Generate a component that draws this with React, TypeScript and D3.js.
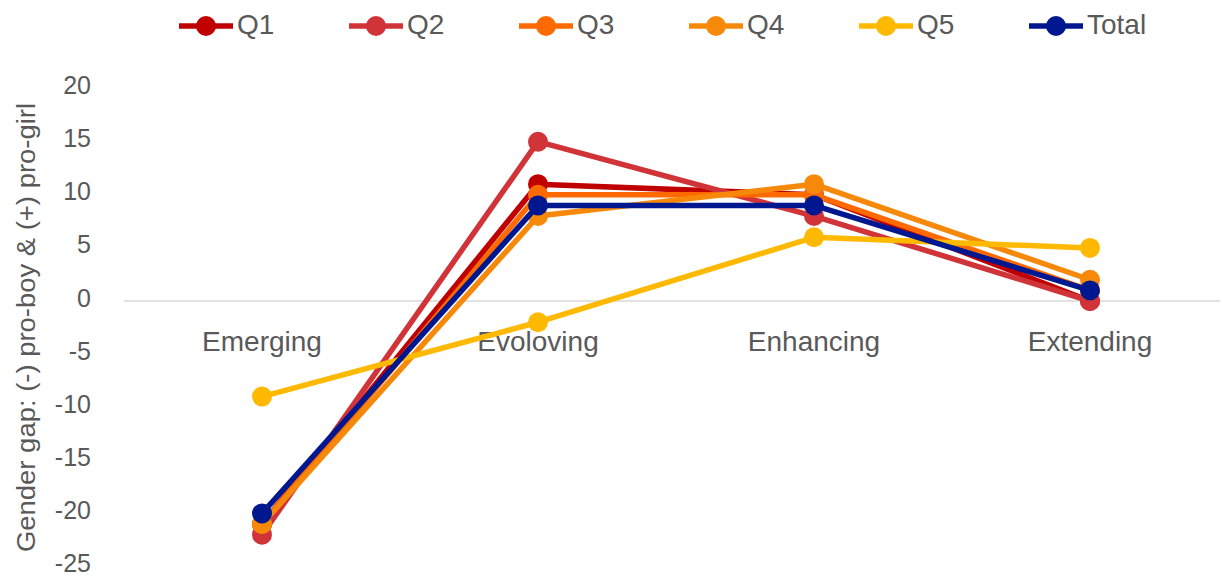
import React from "react";
import * as d3 from "d3";

const categories = ["Emerging", "Evoloving", "Enhancing", "Extending"];
const seriesNames = ["Q1", "Q2", "Q3", "Q4", "Q5", "Total"];
const q1 = [-21, 11, 10, 0];
const q2 = [-22, 15, 8, 0];
const q3 = [-21, 10, 10, 1];
const q4 = [-21, 8, 11, 2];
const q5 = [-9, -2, 6, 5];
const total = [-20, 9, 9, 1];
const colors = ["#C00000", "#D13438", "#FF6A00", "#F7890A", "#FFB900", "#00188F"];
const yTicks = [20, 15, 10, 5, 0, -5, -10, -15, -20, -25];

const W = 1222;
const H = 581;
const FONT = "'Liberation Sans', Arial, sans-serif";
const TEXT = "#595959";

export default function App() {
  const data = [q1, q2, q3, q4, q5, total];
  const x = d3.scaleBand().domain(categories).range([124, 1228]);
  const y = d3.scaleLinear().domain([-25, 20]).range([566.5, 88.6]);
  const cx = (c: string) => (x(c) as number) + x.bandwidth() / 2;
  const line = d3
    .line<number>()
    .x((_, i) => cx(categories[i]))
    .y((d) => y(d));

  return (
    <svg width={W} height={H} style={{ position: "absolute", left: 0, top: 0, background: "#fff" }}>
      <line x1={124} x2={1220} y1={y(0)} y2={y(0)} stroke="#D9D9D9" strokeWidth={1.5} />
      {yTicks.map((t) => (
        <text key={t} x={91} y={y(t) + 5.5} textAnchor="end" fontSize={25} fill={TEXT} fontFamily={FONT}>
          {t}
        </text>
      ))}
      {categories.map((c) => (
        <text key={c} x={cx(c)} y={y(0) + 50} textAnchor="middle" fontSize={28} fill={TEXT} fontFamily={FONT}>
          {c}
        </text>
      ))}
      <text
        transform={`translate(35, 327.5) rotate(-90)`}
        textAnchor="middle"
        fontSize={25}
        fill={TEXT}
        fontFamily={FONT}
        textLength={449}
        lengthAdjust="spacingAndGlyphs"
      >
        Gender gap: (-) pro-boy &amp; (+) pro-girl
      </text>
      {data.map((s, si) => (
        <g key={seriesNames[si]}>
          <path d={line(s) || ""} fill="none" stroke={colors[si]} strokeWidth={5.5} strokeLinejoin="round" />
          {s.map((v, i) => (
            <circle key={i} cx={cx(categories[i])} cy={y(v)} r={10} fill={colors[si]} />
          ))}
        </g>
      ))}
      {seriesNames.map((n, i) => {
        const tx = 237 + i * 170;
        return (
          <g key={n}>
            <line x1={tx - 58} x2={tx - 4} y1={26} y2={26} stroke={colors[i]} strokeWidth={5.5} />
            <circle cx={tx - 31} cy={26} r={10} fill={colors[i]} />
            <text x={tx} y={34} fontSize={28} fill={TEXT} fontFamily={FONT}>
              {n}
            </text>
          </g>
        );
      })}
    </svg>
  );
}
